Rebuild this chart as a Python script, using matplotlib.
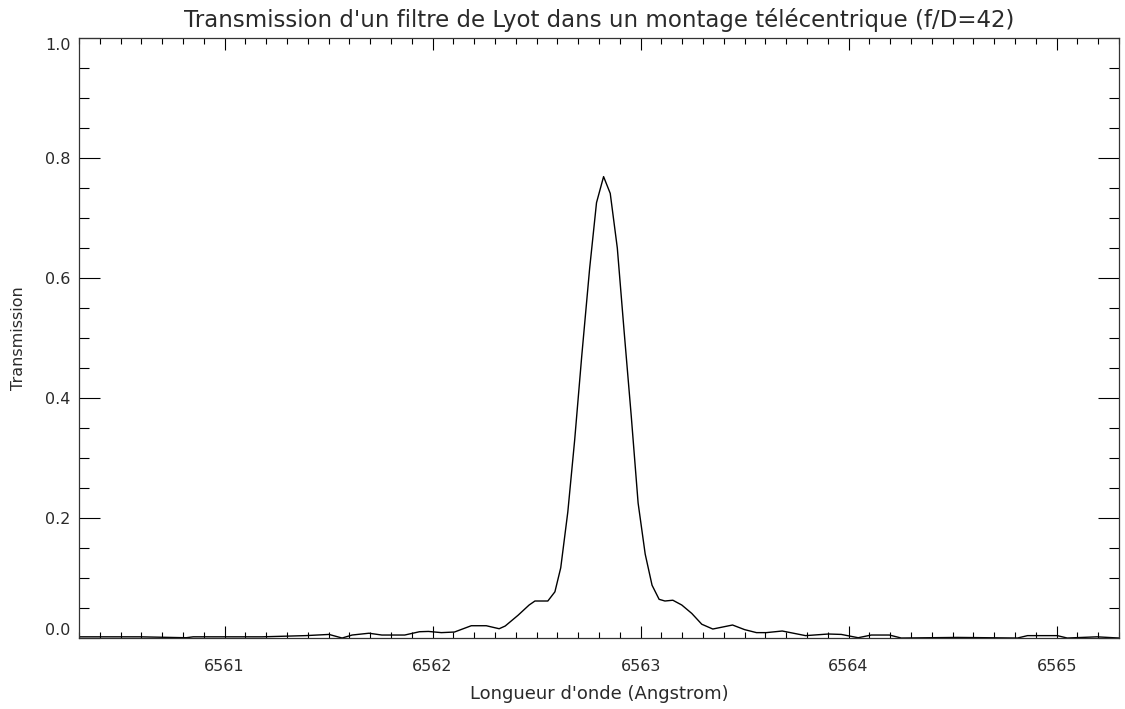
import matplotlib
matplotlib.use("Agg")
import matplotlib.pyplot as plt
from matplotlib.ticker import MultipleLocator

# Wavelength (Angstrom) and transmission
wavelength = [6560.30, 6560.595, 6560.815, 6560.849, 6561.18, 6561.389, 6561.502,
              6561.565, 6561.613, 6561.694, 6561.756, 6561.866, 6561.937, 6561.980,
              6562.042, 6562.105, 6562.186, 6562.258, 6562.320, 6562.349, 6562.411,
              6562.464, 6562.492, 6562.554, 6562.588, 6562.616, 6562.650, 6562.683,
              6562.717, 6562.755, 6562.788, 6562.822, 6562.854, 6562.888, 6562.921,
              6562.955, 6562.988, 6563.022, 6563.055, 6563.089, 6563.117, 6563.155,
              6563.198, 6563.246, 6563.294, 6563.347, 6563.418, 6563.442, 6563.500,
              6563.557, 6563.604, 6563.681, 6563.793, 6563.903, 6563.965, 6564.046,
              6564.109, 6564.196, 6564.253, 6564.525, 6564.812, 6564.860, 6565.003,
              6565.051, 6565.194, 6565.30]
transmission = [0.002, 0.002, 0.0005, 0.002, 0.002, 0.004, 0.006,
                0.000, 0.005, 0.008, 0.005, 0.005, 0.0105, 0.011,
                0.009, 0.010, 0.0205, 0.0205, 0.0155, 0.020, 0.038,
                0.055, 0.0617, 0.0617, 0.077, 0.117, 0.210, 0.330,
                0.470, 0.616, 0.7255, 0.769, 0.741, 0.650, 0.510,
                0.370, 0.225, 0.140, 0.088, 0.0645, 0.0617, 0.063,
                0.055, 0.041, 0.023, 0.015, 0.020, 0.0217, 0.014,
                0.009, 0.009, 0.0117, 0.004, 0.0067, 0.006, 0.0005,
                0.005, 0.005, 0.000, 0.001, 0.000, 0.004, 0.004,
                0.000, 0.002, 0.000]

x_ticks = [6561, 6562, 6563, 6564, 6565]
y_ticks = [0.0, 0.2, 0.4, 0.6, 0.8, 1.0]

plt.rcParams['font.family'] = ['DejaVu Sans']
txt = '#2a2a2a'

fig = plt.figure(figsize=(11.25, 7.09), dpi=100)
ax = fig.add_axes([0.0702, 0.1001, 0.9245, 0.8463])

ax.plot(wavelength, transmission, color='black', lw=1.0)

ax.set_xticks(x_ticks)
ax.set_xticklabels([str(t) for t in x_ticks])
ax.set_yticks(y_ticks)
ax.set_yticklabels(['%.1f' % t for t in y_ticks])
ax.xaxis.set_minor_locator(MultipleLocator(0.1))
ax.yaxis.set_minor_locator(MultipleLocator(0.05))
ax.set_xlim(6560.3, 6565.3)
ax.set_ylim(0.0, 1.0)

ax.tick_params(axis='both', which='both', direction='in', top=True, right=True,
               width=0.8, colors='black', labelcolor=txt, labelsize=11.5)
ax.tick_params(axis='x', which='major', length=8.6, pad=15)
ax.tick_params(axis='x', which='minor', length=4.3)
ax.tick_params(axis='y', which='major', length=15, pad=6)
ax.tick_params(axis='y', which='minor', length=7.5)

# end labels are kept inside the axis range, as in the original
ylabels = ax.get_yticklabels()
ylabels[0].set_verticalalignment('bottom')
ylabels[-1].set_verticalalignment('top')

for s in ax.spines.values():
    s.set_linewidth(0.9)
    s.set_color('#333333')

ax.set_title("Transmission d'un filtre de Lyot dans un montage télécentrique (f/D=42)",
             fontsize=16.5, color=txt, pad=8)
ax.set_xlabel("Longueur d'onde (Angstrom)", fontsize=13, color=txt, labelpad=8)
ax.set_ylabel("Transmission", fontsize=11.5, color=txt, labelpad=14)

fig.savefig('out.png', dpi=100)
